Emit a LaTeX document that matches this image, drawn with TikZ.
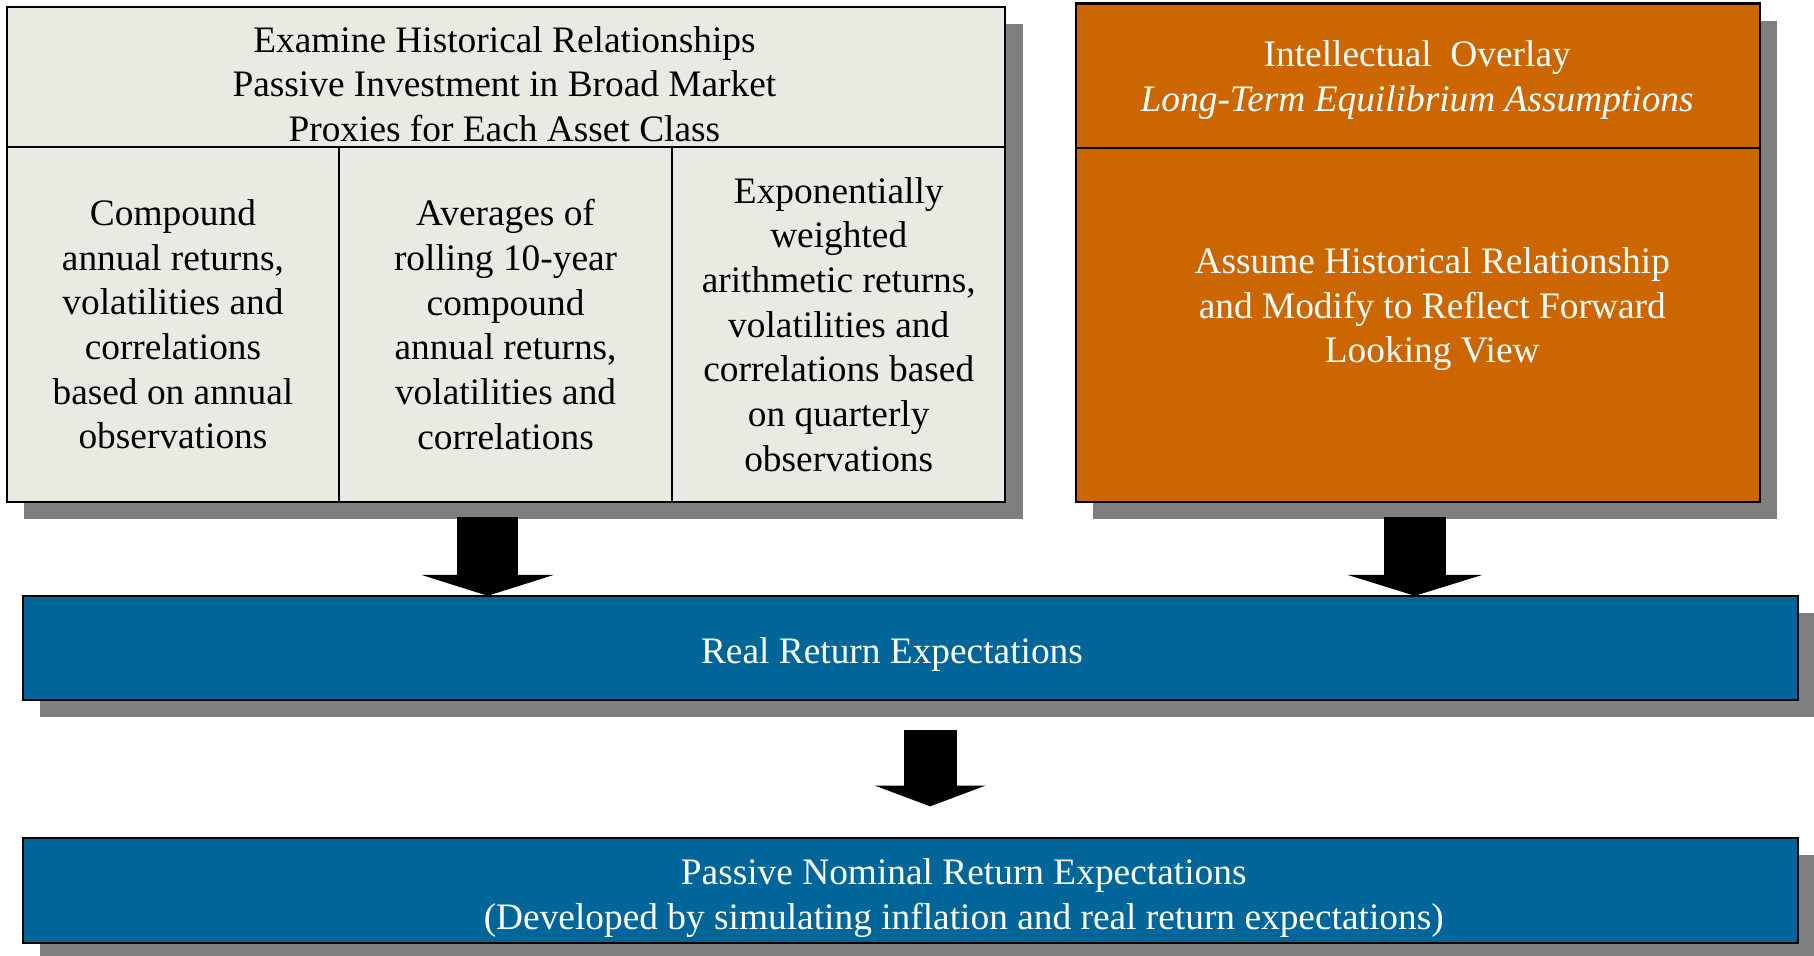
\documentclass[tikz,border=0pt]{standalone}
\usepackage{fontspec}
\setmainfont{Liberation Serif}
\usepackage{tikz}
\usetikzlibrary{arrows.meta, positioning, shadows}
\usepackage{xcolor}

\definecolor{boxgray}{RGB}{235,234,226}
\definecolor{overlayorange}{RGB}{204,102,0}
\definecolor{returnblue}{RGB}{0,102,153}
\definecolor{shadowgray}{RGB}{127,127,127}

\tikzset{
    panel/.style={draw=black, line width=1.8pt, inner sep=0pt, outer sep=0pt, align=center, font=\fontsize{32.3}{38.6}\selectfont},
    paneltext/.style={inner sep=0pt, align=center, font=\fontsize{32.3}{38.6}\selectfont},
    boxshadow/.style={drop shadow={shadow xshift=15pt, shadow yshift=-15pt, fill=shadowgray, opacity=1}},
    blockarrow/.style n args={2}{draw=black, line width=#1, -{Triangle[width=#2, length=18pt, line width=0pt]}}
}

\begin{document}
\begin{tikzpicture}[x=1pt, y=1pt]
            \path[use as bounding box] (0,0) rectangle (1568,-826);

            \node[panel, fill=boxgray, minimum width=863pt, minimum height=428pt, boxshadow] (hist) at (437.5,-220) {};
            \node[panel, fill=boxgray, minimum width=863pt, minimum height=121pt, anchor=north] (histhead) at (hist.north) {};
            \node[paneltext] (histheadtext) at (436,-72.6) {Examine Historical Relationships\\Passive Investment in Broad Market\\Proxies for Each Asset Class};
            \node[panel, minimum width=287pt, minimum height=307pt, anchor=north west] (compound) at (histhead.south west) {Compound\\annual returns,\\volatilities and\\correlations\\based on annual\\observations};
            \node[panel, minimum width=288pt, minimum height=307pt, right=0pt of compound] (rolling) {Averages of\\rolling 10-year\\compound\\annual returns,\\volatilities and\\correlations};
            \node[panel, minimum width=288pt, minimum height=307pt, right=0pt of rolling] (weighted) {Exponentially\\weighted\\arithmetic returns,\\volatilities and\\correlations based\\on quarterly\\observations};

            \node[panel, fill=overlayorange, minimum width=591pt, minimum height=431pt, boxshadow] (overlay) at (1225.5,-218.5) {};
            \node[panel, minimum width=591pt, minimum height=125pt, anchor=north] (overlayhead) at (overlay.north) {};
            \node[paneltext, text=white] (overlayheadtext) at (1225,-69) {Intellectual\ \ Overlay\\\textit{Long-Term Equilibrium Assumptions}};
            \node[paneltext, text=white] (assume) at (1238,-267.2) {Assume Historical Relationship\\and Modify to Reflect Forward\\Looking View};

            \node[panel, fill=returnblue, minimum width=1534pt, minimum height=90pt, boxshadow] (real) at (787,-560) {};
            \node[paneltext, text=white] (realtext) at (771,-565.5) {Real Return Expectations};

            \node[panel, fill=returnblue, minimum width=1534pt, minimum height=91pt, boxshadow] (nominal) at (787,-769.5) {};
            \node[paneltext, text=white] (nominaltext) at (833,-776) {Passive Nominal Return Expectations\\(Developed by simulating inflation and real return expectations)};

            \coordinate (histout) at ([xshift=-16pt, yshift=-13pt]hist.south);
            \coordinate (overlayout) at ([xshift=-2.5pt, yshift=-13pt]overlay.south);
            \coordinate (realout) at ([xshift=17pt, yshift=-26pt]real.south);
            \coordinate (nominalin) at ([xshift=17pt, yshift=27pt]nominal.north);

            \draw[blockarrow={53pt}{114pt}] (histout) -- (histout |- real.north);
            \draw[blockarrow={54pt}{116pt}] (overlayout) -- (overlayout |- real.north);
            \draw[blockarrow={46pt}{96pt}] (realout) -- (nominalin);
\end{tikzpicture}
\end{document}
